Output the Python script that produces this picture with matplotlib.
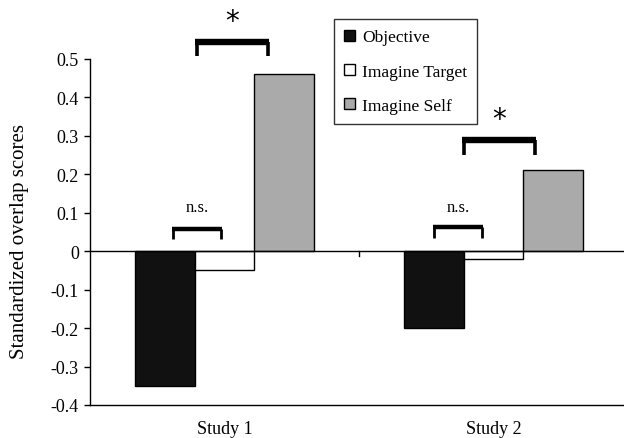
import matplotlib
matplotlib.use("Agg")
import matplotlib.pyplot as plt
import numpy as np

categories = ["Study 1", "Study 2"]
series_names = ["Objective", "Imagine Target", "Imagine Self"]
objective = [-0.35, -0.20]
imagine_target = [-0.05, -0.02]
imagine_self = [0.46, 0.21]
ytick_values = [-0.4, -0.3, -0.2, -0.1, 0, 0.1, 0.2, 0.3, 0.4, 0.5]
ytick_labels = ["-0.4", "-0.3", "-0.2", "-0.1", "0", "0.1", "0.2", "0.3", "0.4", "0.5"]
y_label = "Standardized overlap scores"
# significance annotations: (label, x_start offset, x_end offset, leg bottom, bar y, text y)
sig_star = [("*", -0.102, 0.161, 0.508, 0.545, 0.598), ("*", -0.110, 0.153, 0.251, 0.289, 0.343)]
sig_ns = [("n.s.", -0.190, -0.014, 0.032, 0.059, 0.115), ("n.s.", -0.220, -0.044, 0.035, 0.062, 0.115)]

colors = ["#111111", "#ffffff", "#aaaaaa"]
serif = ["Liberation Serif", "DejaVu Serif"]

W, H = 624, 439
fig = plt.figure(figsize=(W / 100, H / 100), dpi=100)
ax = fig.add_axes([90 / W, 33 / H, 538 / W, 346 / H])

x = np.arange(len(categories))
bw = 0.223
for i, (vals, name) in enumerate(zip([objective, imagine_target, imagine_self], series_names)):
    ax.bar(x + (i - 1) * bw, vals, width=bw, color=colors[i], edgecolor="black",
           linewidth=1.0, label=name, zorder=3)

ax.axhline(0, color="black", lw=1.0, zorder=4)
ax.set_xlim(-0.5, 1.5)
ax.set_ylim(-0.4, 0.5)
ax.set_yticks(ytick_values)
ax.set_yticklabels(ytick_labels, fontfamily=serif, fontsize=13)
ax.tick_params(axis="y", direction="out", length=4, width=1, pad=4)
ax.set_xticks(x)
ax.set_xticklabels(categories, fontfamily=serif, fontsize=13)
ax.tick_params(axis="x", length=0, pad=11)
# boundary tick on zero line
ax.plot([0.5, 0.5], [0, -0.012], color="black", lw=1, zorder=4)

for s in ["top", "right"]:
    ax.spines[s].set_visible(False)
for s in ["left", "bottom"]:
    ax.spines[s].set_linewidth(1.0)

ax.set_ylabel(y_label, fontfamily=serif, fontsize=15)
ax.yaxis.set_label_coords(-0.114, 0.475)

half_leg = 0.006
for (lab, x0, x1, yb, yt, ty), cx in zip(sig_star, x):
    ax.plot([cx + x0, cx + x0], [yb, yt], color="black", lw=2.6, solid_capstyle="butt",
            zorder=5, clip_on=False)
    ax.plot([cx + x1, cx + x1], [yb, yt], color="black", lw=2.6, solid_capstyle="butt",
            zorder=5, clip_on=False)
    ax.plot([cx + x0 - half_leg, cx + x1 + half_leg], [yt, yt], color="black", lw=4.6,
            solid_capstyle="butt", zorder=5, clip_on=False)
    ax.text(cx + (x0 + x1) / 2, ty, lab, ha="center", va="center", fontsize=20,
            fontfamily="DejaVu Sans")
for (lab, x0, x1, yb, yt, ty), cx in zip(sig_ns, x):
    ax.plot([cx + x0, cx + x0], [yb, yt], color="black", lw=2.0, solid_capstyle="butt",
            zorder=5, clip_on=False)
    ax.plot([cx + x1, cx + x1], [yb, yt], color="black", lw=2.0, solid_capstyle="butt",
            zorder=5, clip_on=False)
    ax.plot([cx + x0 - half_leg, cx + x1 + half_leg], [yt, yt], color="black", lw=3.2,
            solid_capstyle="butt", zorder=5, clip_on=False)
    ax.text(cx + (x0 + x1) / 2, ty, lab, ha="center", va="center", fontsize=12,
            fontfamily=serif)

leg = ax.legend(loc="upper left", bbox_to_anchor=((334 - 90) / 538, (406 - 20) / 346),
                prop={"family": serif, "size": 12.5}, frameon=True, fancybox=False,
                edgecolor="black", handlelength=0.6, handleheight=0.6, handletextpad=0.4,
                labelspacing=1.05, borderpad=0.6, borderaxespad=0)
leg.get_frame().set_linewidth(1.0)

fig.savefig("out.png", dpi=100)
